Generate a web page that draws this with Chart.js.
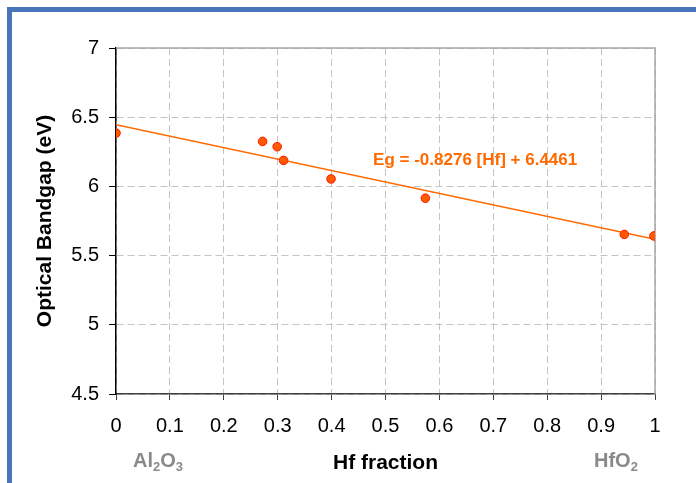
<!DOCTYPE html>
<html>
<head>
<meta charset="utf-8">
<script src="https://cdn.jsdelivr.net/npm/chart.js@4.4.1/dist/chart.umd.min.js"></script>
<style>
  html, body { margin: 0; padding: 0; background: #fff; }
  #wrap { position: relative; width: 696px; height: 483px; overflow: hidden; }
  #frame { position: absolute; left: 7px; top: 7px; width: 800px; height: 600px;
           border-left: 5px solid #4a74b9; border-top: 5px solid #4a74b9; }
  canvas { position: absolute; left: 0; top: 0; }
</style>
</head>
<body>
<div id="wrap">
  <div id="frame"></div>
  <canvas id="chart" width="696" height="483"></canvas>
</div>
<script>
// measured samples
const hfFraction = [0, 0.272, 0.299, 0.311, 0.399, 0.574, 0.943, 0.998];
const bandgap = [6.385, 6.325, 6.287, 6.188, 6.054, 5.915, 5.653, 5.642];

// linear fit shown on the chart
const fitX = [0, 1];
const fitY = [6.4461, 5.6185];
const equationText = "Eg = -0.8276 [Hf] + 6.4461";

const xTickLabels = ["0", "0.1", "0.2", "0.3", "0.4", "0.5", "0.6", "0.7", "0.8", "0.9", "1"];
const yTickLabels = ["4.5", "5", "5.5", "6", "6.5", "7"];

const FONT = "'Liberation Sans', Arial, sans-serif";
const ORANGE = "#ff6a00";

// text with subscript parts: [text, isSub]
function drawRich(ctx, parts, x, y, size, color) {
  ctx.save();
  ctx.fillStyle = color;
  ctx.textBaseline = "alphabetic";
  ctx.textAlign = "left";
  for (const [t, sub] of parts) {
    ctx.font = `bold ${sub ? Math.round(size * 0.65) : size}px ${FONT}`;
    ctx.fillText(t, x, sub ? y + size * 0.18 : y);
    x += ctx.measureText(t).width;
  }
  ctx.restore();
}

const extras = {
  id: "extras",
  beforeDatasetsDraw(chart) {
    const { ctx, chartArea: a } = chart;
    ctx.save();
    ctx.strokeStyle = "#a6a6a6";
    ctx.lineWidth = 1.5;
    ctx.beginPath();
    ctx.moveTo(a.left, a.top);
    ctx.lineTo(a.right, a.top);
    ctx.lineTo(a.right, a.bottom);
    ctx.stroke();
    ctx.restore();
  },
  afterDraw(chart) {
    const { ctx, chartArea: a, scales } = chart;
    ctx.save();
    ctx.fillStyle = ORANGE;
    ctx.font = `bold 17px ${FONT}`;
    ctx.textBaseline = "middle";
    ctx.fillText(equationText, scales.x.getPixelForValue(0.477), scales.y.getPixelForValue(6.19));

    ctx.fillStyle = "#000";
    ctx.font = `bold 21px ${FONT}`;
    ctx.textAlign = "center";
    ctx.textBaseline = "alphabetic";
    ctx.fillText("Hf fraction", (a.left + a.right) / 2, 469);
    ctx.restore();

    drawRich(ctx, [["Al", false], ["2", true], ["O", false], ["3", true]], 133, 467, 20, "#8a8a8a");
    drawRich(ctx, [["HfO", false], ["2", true]], 594, 467, 20, "#8a8a8a");
  }
};

new Chart(document.getElementById("chart"), {
  type: "scatter",
  data: {
    datasets: [
      {
        data: hfFraction.map((x, i) => ({ x, y: bandgap[i] })),
        backgroundColor: "#ff5a00",
        borderColor: "#ff1a00",
        borderWidth: 1,
        pointRadius: 4.3,
      },
      {
        type: "line",
        data: fitX.map((x, i) => ({ x, y: fitY[i] })),
        borderColor: ORANGE,
        borderWidth: 1.5,
        pointRadius: 0,
        fill: false,
      },
    ],
  },
  options: {
    responsive: false,
    animation: false,
    layout: { padding: { top: 48, right: 41, bottom: 0, left: 0 } },
    plugins: { legend: { display: false }, tooltip: { enabled: false } },
    scales: {
      x: {
        type: "linear", min: 0, max: 1,
        afterFit: (s) => { s.height = 89; },
        ticks: {
          stepSize: 0.1, color: "#000", padding: 14,
          font: { family: FONT, size: 20 },
          callback: (v, i) => xTickLabels[i],
        },
        grid: { color: "#c4c4c4", tickColor: "#404040", tickLength: 6, lineWidth: 1 },
        border: { color: "#404040", width: 1.5, dash: [7, 4] },
      },
      y: {
        min: 4.5, max: 7,
        afterFit: (s) => { s.width = 116; },
        ticks: {
          stepSize: 0.5, color: "#000", padding: 10,
          font: { family: FONT, size: 20 },
          callback: (v, i) => yTickLabels[i],
        },
        grid: { color: "#c4c4c4", tickColor: "#000", tickLength: 7, lineWidth: 1 },
        border: { color: "#000", width: 1.5, dash: [7, 4] },
        title: {
          display: true, text: "Optical Bandgap (eV)", color: "#000",
          font: { family: FONT, size: 21, weight: "bold" },
          padding: { top: 33, bottom: 0 },
        },
      },
    },
  },
  plugins: [extras],
});
</script>
</body>
</html>
